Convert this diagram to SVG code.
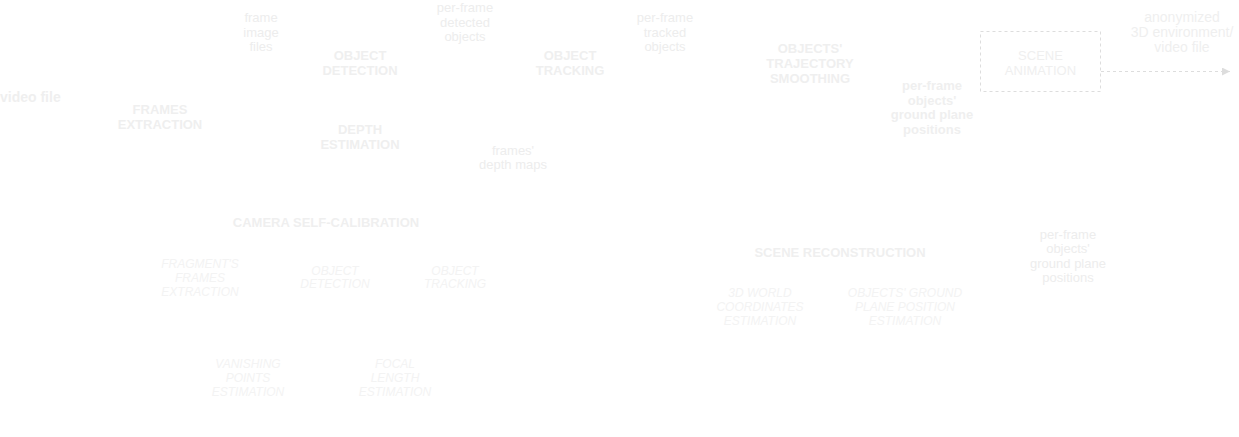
<svg xmlns="http://www.w3.org/2000/svg" width="1239" height="437" viewBox="0 0 1239 437">
<defs>
<style>
text{font-family:"Liberation Sans",Arial,sans-serif;text-anchor:middle;fill:#efefef}
.b{font-weight:bold;font-size:13px}
.l{font-size:13px;fill:#ededed}
.r{font-size:13px}
.a{font-size:14px}
.i{font-style:italic;font-size:12px;fill:#f3f3f3}
.dash{fill:none;stroke:#dddddd;stroke-width:1;stroke-dasharray:3 3}
</style>
<marker id="ah" viewBox="0 0 10 10" refX="10" refY="5" markerWidth="8" markerHeight="8" markerUnits="userSpaceOnUse" orient="auto">
<path d="M0,0L10,5L0,10z" fill="#dddddd"/>
</marker>
</defs>
<rect width="1239" height="437" fill="#ffffff"/>
<g id="connectors">
<line class="dash" x1="1101" y1="71.5" x2="1230" y2="71.5" marker-end="url(#ah)"/>
</g>
<g id="video-file"><text class="b" x="0" y="102" style="text-anchor:start;font-size:14px">video file</text></g>
<g id="frames-extraction"><text class="b" x="160" y="114">FRAMES</text><text class="b" x="160" y="129">EXTRACTION</text></g>
<g id="frame-image-files"><text class="l" x="261" y="22">frame</text><text class="l" x="261" y="37">image</text><text class="l" x="261" y="51">files</text></g>
<g id="object-detection"><text class="b" x="360" y="59.5">OBJECT</text><text class="b" x="360" y="74.5">DETECTION</text></g>
<g id="depth-estimation"><text class="b" x="360" y="134">DEPTH</text><text class="b" x="360" y="149">ESTIMATION</text></g>
<g id="per-frame-detected"><text class="l" x="465" y="12">per-frame</text><text class="l" x="465" y="27">detected</text><text class="l" x="465" y="41">objects</text></g>
<g id="object-tracking"><text class="b" x="570" y="59.5">OBJECT</text><text class="b" x="570" y="74.5">TRACKING</text></g>
<g id="depth-maps"><text class="l" x="513" y="155">frames'</text><text class="l" x="513" y="169">depth maps</text></g>
<g id="per-frame-tracked"><text class="l" x="665" y="22">per-frame</text><text class="l" x="665" y="37">tracked</text><text class="l" x="665" y="51">objects</text></g>
<g id="trajectory-smoothing"><text class="b" x="810" y="53">OBJECTS'</text><text class="b" x="810" y="68">TRAJECTORY</text><text class="b" x="810" y="83">SMOOTHING</text></g>
<g id="ground-plane-positions"><text class="b" x="932" y="90">per-frame</text><text class="b" x="932" y="104.5">objects'</text><text class="b" x="932" y="119">ground plane</text><text class="b" x="932" y="133.5">positions</text></g>
<g id="scene-animation"><rect class="dash" x="980.5" y="31.5" width="120" height="60"/><text class="r" x="1040.5" y="59.5">SCENE</text><text class="r" x="1040.5" y="74.5">ANIMATION</text></g>
<g id="anonymized-output"><text class="a" x="1182" y="22">anonymized</text><text class="a" x="1182" y="37">3D environment/</text><text class="a" x="1182" y="52">video file</text></g>
<g id="camera-self-calibration"><text class="b" x="326" y="227">CAMERA SELF-CALIBRATION</text></g>
<g id="fragment-frames-extraction"><text class="i" x="200" y="267.5">FRAGMENT'S</text><text class="i" x="200" y="281.5">FRAMES</text><text class="i" x="200" y="295.5">EXTRACTION</text></g>
<g id="cal-object-detection"><text class="i" x="335" y="274.5">OBJECT</text><text class="i" x="335" y="288">DETECTION</text></g>
<g id="cal-object-tracking"><text class="i" x="455" y="274.5">OBJECT</text><text class="i" x="455" y="288">TRACKING</text></g>
<g id="vanishing-points"><text class="i" x="248" y="368">VANISHING</text><text class="i" x="248" y="382">POINTS</text><text class="i" x="248" y="396">ESTIMATION</text></g>
<g id="focal-length"><text class="i" x="395" y="368">FOCAL</text><text class="i" x="395" y="382">LENGTH</text><text class="i" x="395" y="396">ESTIMATION</text></g>
<g id="scene-reconstruction"><text class="b" x="840" y="257">SCENE RECONSTRUCTION</text></g>
<g id="world-coordinates"><text class="i" x="760" y="297">3D WORLD</text><text class="i" x="760" y="311">COORDINATES</text><text class="i" x="760" y="325">ESTIMATION</text></g>
<g id="ground-plane-estimation"><text class="i" x="905" y="297">OBJECTS' GROUND</text><text class="i" x="905" y="311">PLANE POSITION</text><text class="i" x="905" y="325">ESTIMATION</text></g>
<g id="ground-plane-positions-2"><text class="l" x="1068" y="238.5">per-frame</text><text class="l" x="1068" y="253">objects'</text><text class="l" x="1068" y="267.5">ground plane</text><text class="l" x="1068" y="282">positions</text></g>
</svg>
